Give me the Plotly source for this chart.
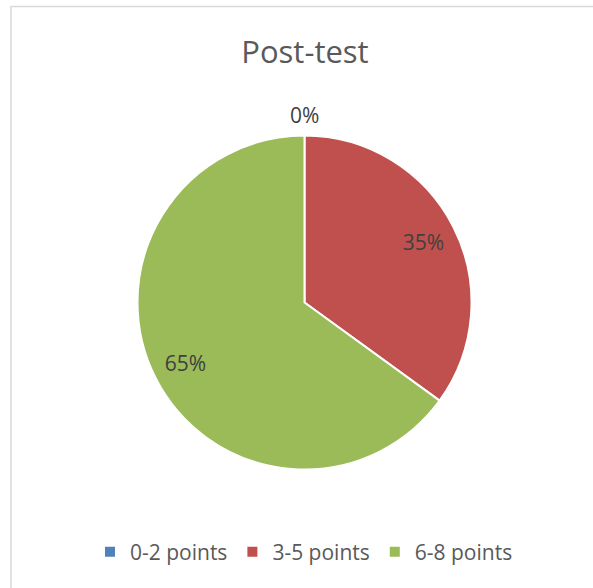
import plotly.graph_objects as go

# Post-test score distribution
labels = ['0-2 points', '3-5 points', '6-8 points']
values = [0, 35, 65]
colors = ['#4F81BD', '#C0504D', '#9BBB59']
text_pos = ['none', 'inside', 'inside']

W, H = 593, 588
label_font = dict(family='Open Sans', size=21, color='#404040')
pie_domain = dict(x=[(304.5 - 167) / W, (304.5 + 167) / W],
                  y=[1 - 469.5 / H, 1 - 135.5 / H])

# the filled pie
pie = go.Pie(
    labels=labels,
    values=values,
    sort=False,
    direction='clockwise',
    rotation=0,
    marker=dict(colors=colors, line=dict(color='white', width=2)),
    textinfo='none',
    domain=pie_domain,
    hoverinfo='label+percent',
)

# transparent ring on top, only to put the % labels further out like Excel does
ring = go.Pie(
    labels=labels,
    values=values,
    sort=False,
    direction='clockwise',
    rotation=0,
    hole=0.6,
    marker=dict(colors=['rgba(0,0,0,0)'] * 3, line=dict(width=0)),
    texttemplate='%{percent:.0%}',
    textposition=text_pos,
    insidetextorientation='horizontal',
    textfont=label_font,
    insidetextfont=label_font,
    domain=pie_domain,
    showlegend=False,
    hoverinfo='skip',
)

fig = go.Figure([pie, ring])

# zero slice has no width, so plotly pushes its label off to the side;
# Excel centres it above the top of the pie
zero_label = f'{values[0] / sum(values):.0%}'

fig.update_layout(
    width=W,
    height=H,
    margin=dict(l=0, r=0, t=0, b=0),
    paper_bgcolor='white',
    plot_bgcolor='white',
    title=dict(
        text='Post-test',
        x=305 / W, xanchor='center',
        y=1 - 52 / H, yanchor='middle',
        font=dict(family='Open Sans', size=31, color='#595959'),
    ),
    showlegend=True,
    legend=dict(
        orientation='h',
        x=304 / W, xanchor='center',
        y=1 - 552 / H, yanchor='middle',
        font=dict(family='Open Sans', size=21, color='#595959'),
        itemwidth=30,
    ),
    annotations=[dict(
        text=zero_label, showarrow=False,
        xref='paper', yref='paper',
        x=sum(pie_domain['x']) / 2, xanchor='center',
        y=pie_domain['y'][1] + 20 / H, yanchor='middle',
        font=label_font,
    )],
    shapes=[dict(
        type='rect', xref='paper', yref='paper',
        x0=11 / W, y0=1 - 6.5 / H, x1=1.02, y1=-0.02,
        line=dict(color='#D9D9D9', width=1.5),
    )],
)

fig.write_html(
    'out.html',
    config=dict(displayModeBar=False),
    post_script="document.body.style.margin='0';document.body.style.overflow='hidden';",
)
